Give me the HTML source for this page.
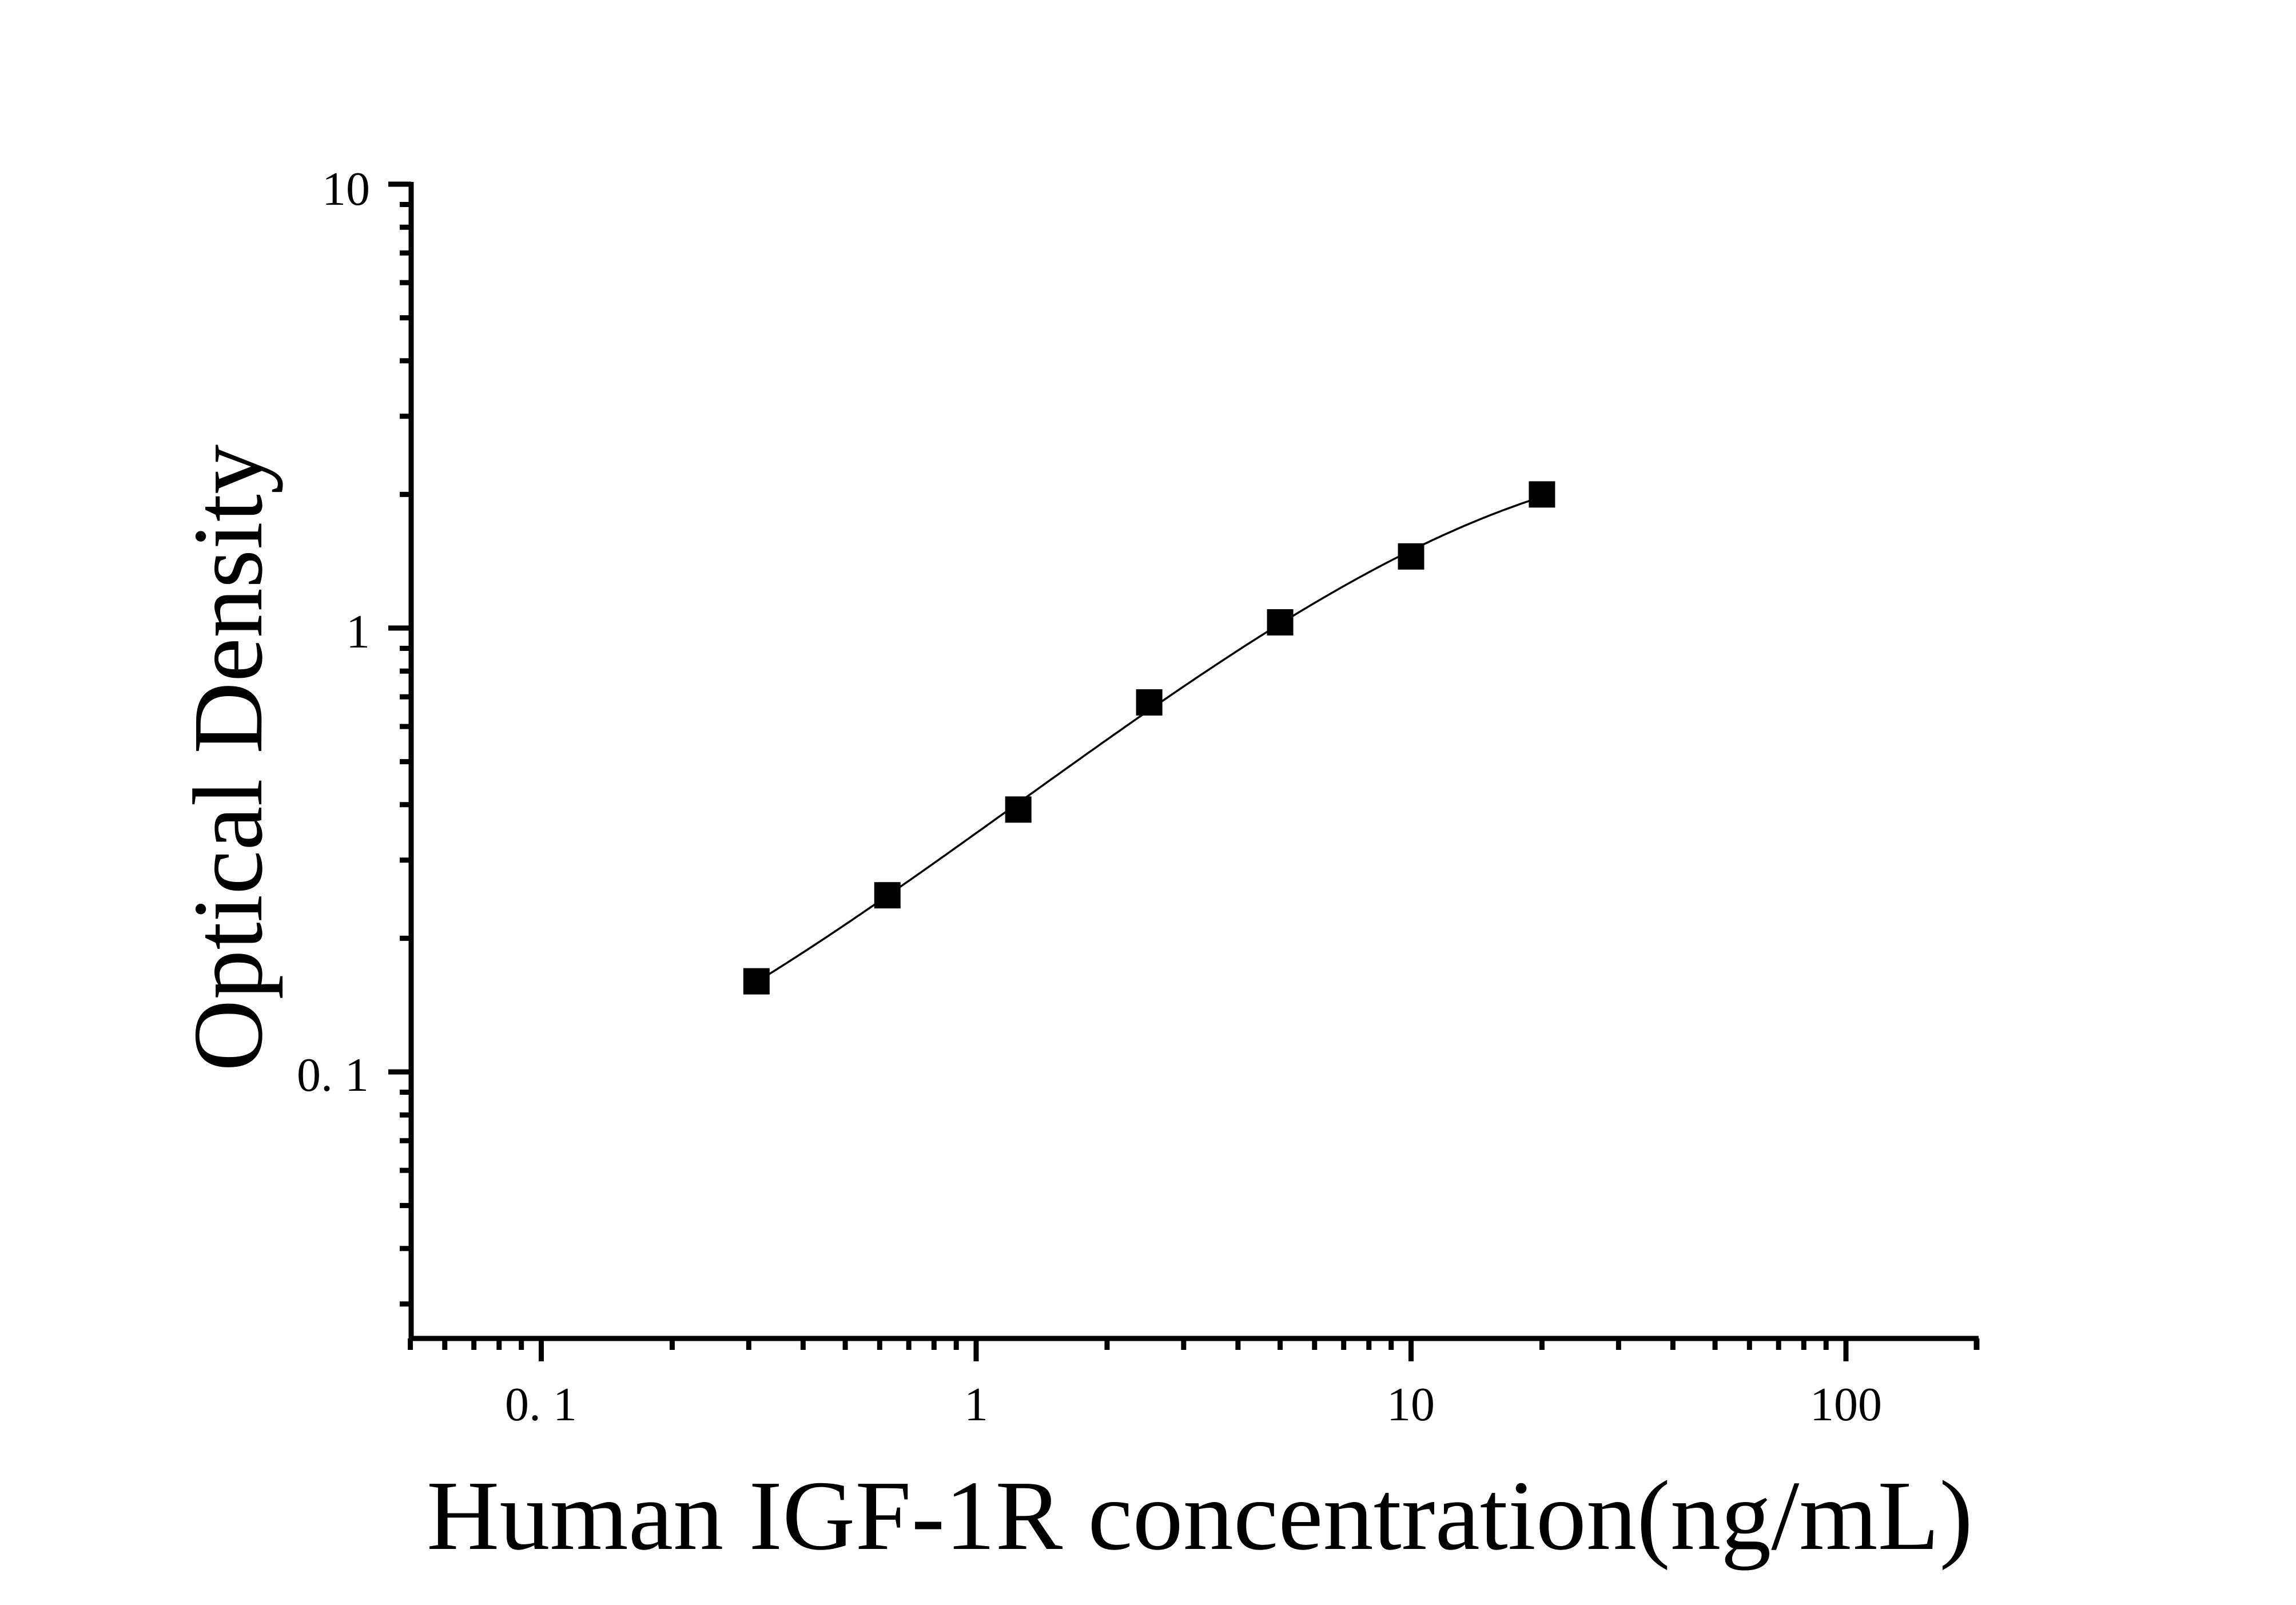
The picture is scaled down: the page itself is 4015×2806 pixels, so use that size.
<!DOCTYPE html>
<html><head><meta charset="utf-8"><style>
html,body{margin:0;padding:0;background:#fff;}
svg{display:block;}
text{font-family:"Liberation Serif","Times New Roman",serif;fill:#000;}
</style></head><body>
<svg id="s" width="4015" height="2806" viewBox="0 0 4015 2806" xmlns="http://www.w3.org/2000/svg">
<rect width="4015" height="2806" fill="#fff"/>
<g id="ax" stroke="#000" stroke-width="9" fill="none"></g>
<path id="curve" fill="none" stroke="#000" stroke-width="3.5"/>
<g id="pts" fill="#000"></g>
<text x="647" y="358" font-size="84" text-anchor="end">10</text>
<text x="647" y="1132" font-size="84" text-anchor="end">1</text>
<text x="645" y="1907" font-size="84" text-anchor="end">0. 1</text>
<text x="946" y="2483" font-size="84" text-anchor="middle">0. 1</text>
<text x="1707" y="2483" font-size="84" text-anchor="middle">1</text>
<text x="2467" y="2483" font-size="84" text-anchor="middle">10</text>
<text x="3228" y="2483" font-size="84" text-anchor="middle">100</text>
<text x="2098" y="2708" font-size="174" text-anchor="middle" textLength="2704" lengthAdjust="spacingAndGlyphs">Human IGF-1R concentration(ng/mL)</text>
<text transform="translate(457,1325) rotate(-90)" font-size="174" text-anchor="middle" textLength="1096" lengthAdjust="spacingAndGlyphs">Optical Density</text>
</svg>
<script>
(function(){
var NS="http://www.w3.org/2000/svg";
var ax=document.getElementById('ax');
function X(v){return 946.5+(Math.log10(v)+1)*760.5;}
function Y(v){return 322+(1-Math.log10(v))*776;}
function line(x1,y1,x2,y2){var l=document.createElementNS(NS,'line');l.setAttribute('x1',x1);l.setAttribute('y1',y1);l.setAttribute('x2',x2);l.setAttribute('y2',y2);ax.appendChild(l);}
var x0=719,x1=3456,y0=322,y1=2340;
line(x0,y0-4,x0,y1+4);
line(x0-4,y1,x1+4,y1);
line(x1,y1,x1,y1+20);
[0.01,0.1,1].forEach(function(d){for(var k=1;k<10;k++){var v=d*k;var y=Y(v);if(y<y0-1||y>y1+1)continue;if(k==1)line(x0,y,x0-40,y);else line(x0,y,x0-20,y);}});
line(x0,Y(10),x0-40,Y(10));
[0.01,0.1,1,10,100].forEach(function(d){for(var k=1;k<10;k++){var v=d*k;var x=X(v);if(x<x0-2||x>x1+2)continue;if(k==1)line(x,y1,x,y1+40);else line(x,y1,x,y1+20);}});
var xs=[0.3125,0.625,1.25,2.5,5,10,20],ys=[0.16,0.25,0.39,0.68,1.03,1.45,2.0];
var P=xs.map(function(v,i){return [X(v),Y(ys[i])];});
var g=document.getElementById('pts');
P.forEach(function(p){var r=document.createElementNS(NS,'rect');r.setAttribute('x',p[0]-23);r.setAttribute('y',p[1]-23);r.setAttribute('width',46);r.setAttribute('height',46);g.appendChild(r);});
// cubic least squares fit in log-log
var n=4,A=[],b=[];
for(var i=0;i<n;i++){A.push([0,0,0,0]);b.push(0);}
xs.forEach(function(v,k){var lx=Math.log10(v),ly=Math.log10(ys[k]);var pw=[1,lx,lx*lx,lx*lx*lx];
for(var i=0;i<n;i++){b[i]+=pw[i]*ly;for(var j=0;j<n;j++)A[i][j]+=pw[i]*pw[j];}});
for(var i=0;i<n;i++){var m=i;for(var r=i+1;r<n;r++)if(Math.abs(A[r][i])>Math.abs(A[m][i]))m=r;
var t=A[i];A[i]=A[m];A[m]=t;var tb=b[i];b[i]=b[m];b[m]=tb;
for(var r=0;r<n;r++){if(r==i)continue;var f=A[r][i]/A[i][i];for(var j=0;j<n;j++)A[r][j]-=f*A[i][j];b[r]-=f*b[i];}}
var c=b.map(function(v,i){return v/A[i][i];});
var d='';var a0=Math.log10(0.3125),a1=Math.log10(20);
for(var s=0;s<=200;s++){var lx=a0+(a1-a0)*s/200;var ly=c[0]+c[1]*lx+c[2]*lx*lx+c[3]*lx*lx*lx;
d+=(s?' L':'M')+X(Math.pow(10,lx)).toFixed(1)+','+Y(Math.pow(10,ly)).toFixed(1);}
document.getElementById('curve').setAttribute('d',d);
})();
</script>
</body></html>
